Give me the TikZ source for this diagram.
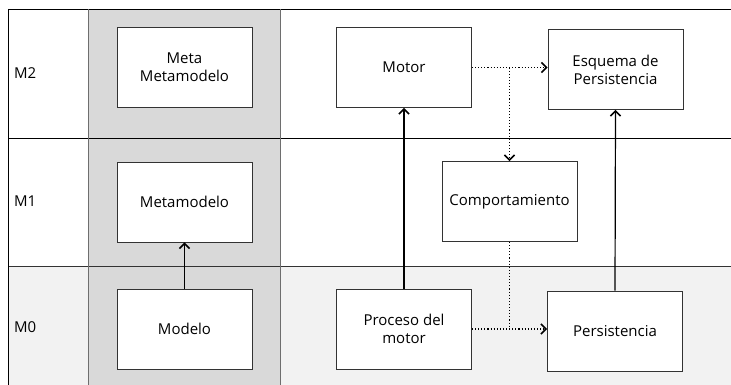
\documentclass[tikz,border=0pt]{standalone}
\usepackage{fontspec}
\setmainfont{Open Sans}
\usetikzlibrary{arrows.meta}
\definecolor{colgrey}{HTML}{D9D9D9}
\definecolor{rowgrey}{HTML}{F2F2F2}
\definecolor{boxline}{HTML}{333333}
\definecolor{sepgrey}{HTML}{6E6E6E}
\tikzset{
  box/.style={draw=boxline, line width=0.9pt, fill=white, minimum width=135pt,
    minimum height=80pt, inner sep=2pt, align=center,
    font=\fontsize{15}{18}\selectfont},
  rowlabel/.style={anchor=west, inner sep=0pt, font=\fontsize{15}{18}\selectfont},
  tip/.style={-{Straight Barb[length=5pt,width=10pt,line width=1.6pt]}},
  flow/.style={line width=1.2pt, tip},
  dep/.style={line width=1.1pt, dotted, tip},
  depline/.style={line width=1.1pt, dotted},
  sep/.style={line width=0.9pt, draw=black}
}
\begin{document}
\begin{tikzpicture}[x=1pt, y=-1pt]
  \useasboundingbox (0,0) rectangle (731,385);
  % backgrounds: light M0 row and the grey metamodel column
  \fill[rowgrey] (8,266) rectangle (731,385);
  \fill[colgrey] (88.5,9) rectangle (280,385);
  % table lines
  \draw[sep] (8,9) -- (731,9);
  \draw[sep] (8,138) -- (731,138);
  \draw[sep, draw=black!80] (8,266) -- (731,266);
  \draw[sep] (8,9) -- (8,385);
  \draw[line width=1pt, draw=sepgrey] (88.5,9) -- (88.5,385);
  \draw[line width=1pt, draw=sepgrey] (280,9) -- (280,385);
  % level labels
  \node[rowlabel] (m2) at (14,73) {M2};
  \node[rowlabel] (m1) at (14,201) {M1};
  \node[rowlabel] (m0) at (14,327) {M0};
  % boxes
  \node[box] (mmm) at (184.5,67.5) {Meta\\Metamodelo};
  \node[box] (mm) at (184.5,202) {Metamodelo};
  \node[box] (mod) at (184.5,329) {Modelo};
  \node[box] (motor) at (404,67.5) {Motor};
  \node[box] (esq) at (615.5,69.5) {Esquema de\\Persistencia};
  \node[box] (comp) at (509.5,201.5) {Comportamiento};
  \node[box] (proc) at (404,329) {Proceso del\\motor};
  \node[box] (pers) at (615,331) {Persistencia};
  % solid arrows
  \draw[flow] (mod.north) -- (mm.south);
  \draw[flow] (proc.north) -- (motor.south);
  \draw[flow] (pers.north) -- (esq.south);
  % dotted dependencies
  \coordinate (ja) at (comp.north |- motor.east);
  \coordinate (jb) at (comp.south |- proc.east);
  \draw[dep] (motor.east) -- (motor.east -| esq.west);
  \draw[dep] (ja) -- (comp.north);
  \draw[dep] (proc.east) -- (proc.east -| pers.west);
  \draw[depline] (comp.south) -- (jb);
\end{tikzpicture}
\end{document}
